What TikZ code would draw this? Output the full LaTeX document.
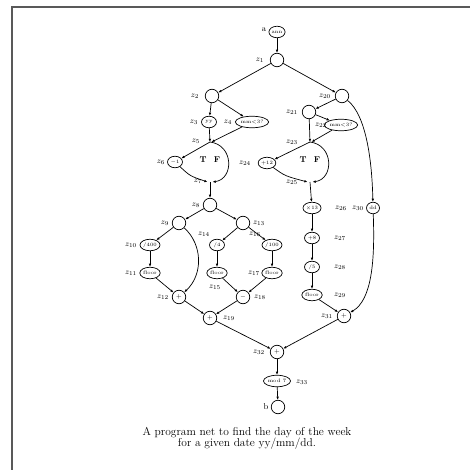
\documentclass[tikz,border=0pt]{standalone}
\usetikzlibrary{arrows.meta,shapes.geometric}
\begin{document}
\begin{tikzpicture}[x=1bp,y=-1bp,
  op/.style={circle,draw,inner sep=0pt,minimum size=13.5bp,line width=0.7bp,font=\fontsize{6.5}{7}\selectfont},
  ell/.style={ellipse,draw,inner sep=0.3pt,minimum height=11.5bp,minimum width=15bp,line width=0.7bp,font=\fontsize{5}{5.5}\selectfont},
  jn/.style={coordinate},
  lab/.style={font=\fontsize{8.5}{9}\selectfont,inner sep=0pt},
  tf/.style={font=\fontsize{8.5}{9}\selectfont\bfseries},
  arr/.style={-{Latex[length=3.2bp,width=2.6bp]},line width=0.7bp},
  frame/.style={draw=black!65,line width=1.5bp}]
\useasboundingbox (0,0) rectangle (470,470);
\draw[frame] (12,470) -- (12,7) -- (470,7);
% nodes
\node[ell] (in) at (277,32) {ann};
\node[op] (z1) at (277,60) {};
\node[op] (z2) at (212,96) {};
\node[op] (z20) at (342,96) {};
\node[ell] (z3) at (209,122) {yy};
\node[ell] (z4) at (252,122) {mm$<$3?};
\node[jn] (z5) at (210,142) {};
\node[ell] (z6) at (175,162) {$-$1};
\node[jn] (z7) at (210,182) {};
\node[op] (z8) at (210,205) {};
\node[op] (z9) at (179,223) {};
\node[op] (z13) at (243,223) {};
\node[ell] (z10) at (150,245) {/400};
\node[ell] (z14) at (217,245) {/4};
\node[ell] (z16) at (272,245) {/100};
\node[ell] (z11) at (150,273) {floor};
\node[ell] (z15) at (217,273) {floor};
\node[ell] (z17) at (272,273) {floor};
\node[op] (z12) at (179,297) {+};
\node[op] (z18) at (243,297) {$-$};
\node[op] (z19) at (210,318) {+};
\node[op] (z21) at (309,112) {};
\node[ell] (z22) at (341,125) {mm$<$3?};
\node[jn] (z23) at (310,142) {};
\node[ell] (z24) at (267,163) {+12};
\node[jn] (z25) at (310,182) {};
\node[ell] (z26) at (312,208) {$\times$13};
\node[ell] (z27) at (312,238) {+8};
\node[ell] (z28) at (312,267) {/5};
\node[ell] (z29) at (312,295) {floor};
\node[ell,minimum width=13bp] (z30) at (373,208) {dd};
\node[op] (z31) at (344,316) {+};
\node[op] (z32) at (277,352) {+};
\node[ell] (z33) at (277,381) {mod 7};
\node[op] (out) at (278,407) {};
% T/F marks
\node[tf] (t1) at (203,160) {T};
\node[tf] (f1) at (217,160) {F};
\node[tf] (t2) at (303,160) {T};
\node[tf] (f2) at (317,160) {F};
% labels
\node[lab] (la) at (264,30) {a};
\node[lab] (l1) at (260,60) {$z_1$};
\node[lab] (l2) at (195,96) {$z_2$};
\node[lab] (l3) at (194,122) {$z_3$};
\node[lab] (l4) at (228,122) {$z_4$};
\node[lab] (l5) at (196,141) {$z_5$};
\node[lab] (l6) at (161,162) {$z_6$};
\node[lab] (l7) at (198,181) {$z_7$};
\node[lab] (l8) at (196,205) {$z_8$};
\node[lab] (l9) at (165,223) {$z_9$};
\node[lab] (l13) at (259,223) {$z_{13}$};
\node[lab] (l10) at (131,245) {$z_{10}$};
\node[lab] (l14) at (204,234) {$z_{14}$};
\node[lab] (l16) at (255,234) {$z_{16}$};
\node[lab] (l11) at (131,273) {$z_{11}$};
\node[lab] (l15) at (215,287) {$z_{15}$};
\node[lab] (l17) at (254,273) {$z_{17}$};
\node[lab] (l12) at (163,297) {$z_{12}$};
\node[lab] (l18) at (260,297) {$z_{18}$};
\node[lab] (l19) at (229,318) {$z_{19}$};
\node[lab] (l20) at (325,96) {$z_{20}$};
\node[lab] (l21) at (292,112) {$z_{21}$};
\node[lab] (l22) at (321,125) {$z_{22}$};
\node[lab] (l23) at (292,142) {$z_{23}$};
\node[lab] (l24) at (245,163) {$z_{24}$};
\node[lab] (l25) at (292,182) {$z_{25}$};
\node[lab] (l26) at (341,208) {$z_{26}$};
\node[lab] (l30) at (358,208) {$z_{30}$};
\node[lab] (l27) at (340,238) {$z_{27}$};
\node[lab] (l28) at (340,267) {$z_{28}$};
\node[lab] (l29) at (340,295) {$z_{29}$};
\node[lab] (l31) at (327,316) {$z_{31}$};
\node[lab] (l32) at (259,352) {$z_{32}$};
\node[lab] (l33) at (302,382) {$z_{33}$};
\node[lab] (lb) at (266,407) {b};
% edges
\draw[arr] (in) -- (z1);
\draw[arr] (z1) -- (z2);
\draw[arr] (z1) -- (z20);
\draw[arr] (z2) -- (z3);
\draw[arr] (z2) -- (z4);
\draw[arr] (z3) -- (z5);
\draw[arr] (z4) -- ([xshift=1.5bp]z5);
\draw[arr] (z5) -- (z6);
\draw[arr] (z6) .. controls (190,176) .. ([xshift=-2.5bp]z7);
\draw[arr] (z5) .. controls (234,145) and (234,179) .. ([xshift=2.5bp]z7);
\draw[arr] (z7) -- (z8);
\draw[arr] (z8) -- (z9);
\draw[arr] (z8) -- (z13);
\draw[arr] (z9) -- (z10);
\draw[arr] (z9) .. controls (203,245) and (203,275) .. (z12);
\draw[arr] (z10) -- (z11);
\draw[arr] (z11) -- (z12);
\draw[arr] (z13) -- (z14);
\draw[arr] (z13) -- (z16);
\draw[arr] (z14) -- (z15);
\draw[arr] (z16) -- (z17);
\draw[arr] (z15) -- (z18);
\draw[arr] (z17) -- (z18);
\draw[arr] (z12) -- (z19);
\draw[arr] (z18) -- (z19);
\draw[arr] (z19) -- (z32);
\draw[arr] (z20) -- (z21);
\draw[arr] (z20) .. controls (366,115) and (372,160) .. (z30);
\draw[arr] (z21) -- (z22);
\draw[arr] (z21) -- (z23);
\draw[arr] (z22) -- ([xshift=1.5bp]z23);
\draw[arr] (z23) -- (z24);
\draw[arr] (z24) .. controls (285,176) .. ([xshift=-2.5bp]z25);
\draw[arr] (z23) .. controls (334,145) and (334,179) .. ([xshift=2.5bp]z25);
\draw[arr] (z25) -- (z26);
\draw[arr] (z26) -- (z27);
\draw[arr] (z27) -- (z28);
\draw[arr] (z28) -- (z29);
\draw[arr] (z29) -- (z31);
\draw[arr] (z30) .. controls (375,260) and (372,300) .. (z31);
\draw[arr] (z31) -- (z32);
\draw[arr] (z32) -- (z33);
\draw[arr] (z33) -- (out);
% caption
\node[font=\fontsize{11.5}{11}\selectfont,align=center] (cap) at (247,438) {A program net to find the day of the week\\for a given date yy/mm/dd.};
\end{tikzpicture}
\end{document}
